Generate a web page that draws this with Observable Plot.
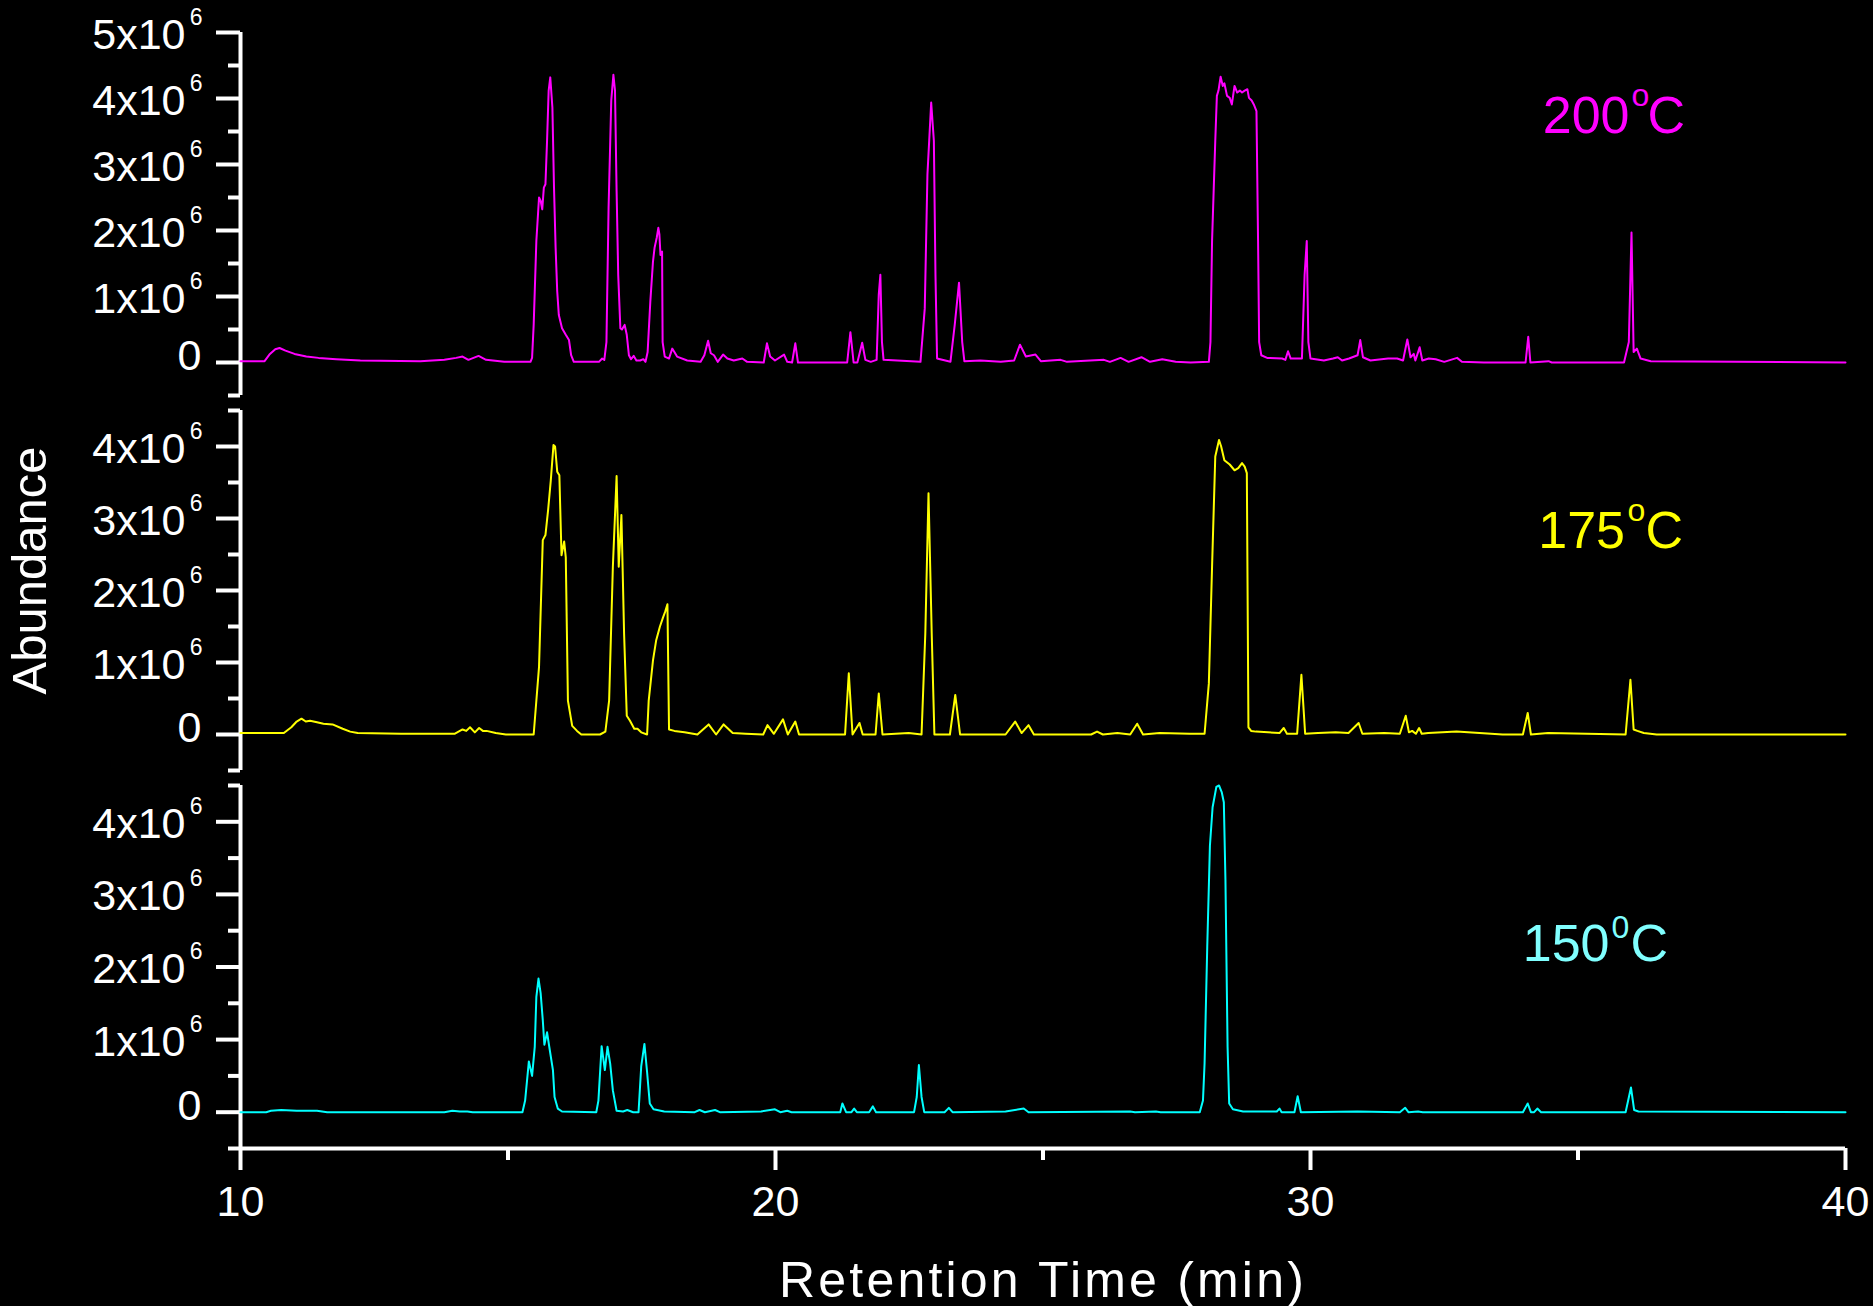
<!DOCTYPE html>
<html>
<head>
<meta charset="utf-8">
<script src="https://cdn.jsdelivr.net/npm/d3@7"></script>
<script src="https://cdn.jsdelivr.net/npm/@observablehq/plot@0.6"></script>
<style>
  html, body { margin: 0; padding: 0; background: #000; overflow: hidden; }
  #chart { position: relative; width: 1873px; height: 1306px; background: #000; overflow: hidden; }
  #chart svg { position: absolute; left: 0; }
</style>
</head>
<body>
<div id="chart"></div>
<script>
// ---------------- DATA (abundance in units of 10^6, time in min) ----------------
const trace200 = [
  [10.00,0.02],[10.45,0.02],[10.54,0.12],[10.65,0.20],[10.73,0.22],[10.84,0.18],[11.01,0.13],[11.23,0.09],
  [11.46,0.07],[11.79,0.05],[12.24,0.03],[13.36,0.02],[13.81,0.04],[14.03,0.07],[14.15,0.09],[14.26,0.04],
  [14.45,0.10],[14.59,0.04],[14.93,0.01],[15.42,0.01],[15.45,0.07],[15.48,0.57],[15.53,1.84],[15.58,2.50],
  [15.61,2.45],[15.64,2.32],[15.67,2.65],[15.70,2.70],[15.73,3.36],[15.76,4.12],[15.79,4.32],[15.83,3.86],
  [15.86,2.65],[15.89,1.74],[15.92,1.08],[15.95,0.72],[16.01,0.52],[16.08,0.42],[16.14,0.34],[16.18,0.11],
  [16.23,0.01],[16.70,0.01],[16.76,0.06],[16.80,0.04],[16.84,0.31],[16.88,2.34],[16.93,3.97],[16.97,4.36],
  [17.00,4.12],[17.03,2.60],[17.06,1.33],[17.10,0.52],[17.13,0.50],[17.18,0.57],[17.22,0.42],[17.26,0.11],
  [17.30,0.05],[17.35,0.10],[17.40,0.03],[17.47,0.03],[17.53,0.05],[17.57,0.01],[17.61,0.16],[17.66,0.92],
  [17.71,1.53],[17.74,1.74],[17.78,1.89],[17.81,2.04],[17.83,1.94],[17.85,1.63],[17.88,1.68],[17.89,0.31],
  [17.93,0.09],[18.01,0.06],[18.07,0.21],[18.11,0.16],[18.16,0.09],[18.35,0.03],[18.60,0.01],[18.67,0.11],
  [18.74,0.33],[18.79,0.14],[18.85,0.11],[18.92,0.01],[19.02,0.12],[19.10,0.06],[19.22,0.03],[19.38,0.06],
  [19.47,0.01],[19.78,0.00],[19.84,0.29],[19.90,0.09],[19.99,0.03],[20.16,0.12],[20.22,0.01],[20.31,0.00],
  [20.37,0.29],[20.42,0.00],[21.34,0.00],[21.40,0.46],[21.46,0.00],[21.53,0.00],[21.62,0.30],[21.68,0.04],
  [21.78,0.01],[21.89,0.04],[21.93,1.03],[21.96,1.33],[21.99,0.31],[22.02,0.04],[22.71,0.01],[22.79,0.82],
  [22.84,2.85],[22.91,3.94],[22.96,3.36],[22.99,1.33],[23.02,0.06],[23.27,0.01],[23.35,0.57],[23.43,1.21],
  [23.49,0.31],[23.53,0.02],[23.83,0.03],[24.21,0.01],[24.46,0.03],[24.57,0.27],[24.68,0.09],[24.86,0.12],
  [24.96,0.02],[25.33,0.04],[25.45,0.01],[26.14,0.04],[26.25,0.01],[26.45,0.07],[26.60,0.01],[26.84,0.08],
  [27.00,0.01],[27.23,0.05],[27.48,0.01],[27.76,0.00],[28.10,0.01],[28.13,0.31],[28.16,1.84],[28.19,2.60],
  [28.22,3.36],[28.25,4.04],[28.28,4.12],[28.32,4.33],[28.36,4.19],[28.39,4.23],[28.44,4.04],[28.49,4.01],
  [28.53,3.91],[28.58,4.19],[28.63,4.09],[28.68,4.12],[28.72,4.09],[28.77,4.12],[28.82,4.14],[28.85,4.01],
  [28.90,3.97],[28.94,3.91],[28.99,3.81],[29.02,1.84],[29.04,0.31],[29.08,0.11],[29.19,0.07],[29.47,0.06],
  [29.53,0.04],[29.58,0.17],[29.63,0.06],[29.84,0.06],[29.89,1.33],[29.93,1.84],[29.96,0.31],[30.00,0.06],
  [30.25,0.03],[30.42,0.06],[30.51,0.08],[30.59,0.03],[30.72,0.06],[30.88,0.11],[30.93,0.34],[30.98,0.08],
  [31.12,0.03],[31.45,0.06],[31.62,0.06],[31.73,0.03],[31.81,0.35],[31.87,0.08],[31.93,0.13],[31.96,0.03],
  [32.04,0.23],[32.09,0.03],[32.21,0.06],[32.34,0.05],[32.50,0.01],[32.74,0.07],[32.83,0.01],[33.24,0.00],
  [34.02,0.00],[34.07,0.39],[34.11,0.00],[34.45,0.02],[34.51,0.00],[35.86,0.00],[35.95,0.31],[36.00,1.97],
  [36.04,0.16],[36.10,0.21],[36.17,0.06],[36.36,0.02],[40.00,0.00]
];

const trace175 = [
  [10.00,0.02],[10.81,0.02],[10.95,0.10],[11.05,0.18],[11.14,0.22],[11.22,0.18],[11.30,0.19],[11.43,0.17],
  [11.55,0.15],[11.72,0.14],[11.91,0.08],[12.05,0.04],[12.19,0.02],[13.00,0.01],[14.00,0.01],[14.15,0.07],
  [14.22,0.05],[14.29,0.10],[14.38,0.03],[14.46,0.09],[14.53,0.05],[14.60,0.05],[14.77,0.02],[14.96,0.00],
  [15.48,0.00],[15.58,0.94],[15.65,2.70],[15.70,2.77],[15.75,3.12],[15.80,3.53],[15.85,4.02],[15.88,4.00],
  [15.92,3.65],[15.96,3.60],[16.00,2.49],[16.05,2.68],[16.08,2.46],[16.12,0.47],[16.20,0.12],[16.29,0.05],
  [16.37,0.00],[16.72,0.00],[16.82,0.04],[16.89,0.47],[16.96,2.33],[17.03,3.59],[17.07,2.33],[17.12,3.05],
  [17.17,1.40],[17.22,0.26],[17.28,0.19],[17.36,0.08],[17.42,0.08],[17.49,0.03],[17.60,0.00],[17.63,0.47],
  [17.71,1.03],[17.77,1.31],[17.84,1.50],[17.90,1.63],[17.94,1.71],[17.98,1.81],[18.01,0.07],[18.11,0.05],
  [18.30,0.03],[18.54,0.00],[18.75,0.14],[18.89,0.00],[19.03,0.14],[19.20,0.02],[19.44,0.01],[19.77,0.00],
  [19.85,0.13],[19.97,0.01],[20.14,0.21],[20.23,0.00],[20.37,0.18],[20.44,0.00],[21.30,0.00],[21.37,0.85],
  [21.44,0.00],[21.57,0.16],[21.63,0.00],[21.87,0.00],[21.93,0.57],[22.00,0.00],[22.49,0.02],[22.73,0.00],
  [22.80,1.40],[22.86,3.35],[22.92,1.40],[22.97,0.00],[23.26,0.00],[23.36,0.55],[23.45,0.00],[24.30,0.00],
  [24.48,0.18],[24.60,0.02],[24.73,0.13],[24.83,0.00],[25.90,0.00],[26.01,0.04],[26.12,0.00],[26.39,0.02],
  [26.63,0.00],[26.76,0.15],[26.87,0.00],[27.18,0.02],[27.74,0.01],[28.02,0.01],[28.10,0.71],[28.16,2.33],
  [28.22,3.86],[28.29,4.09],[28.33,4.00],[28.39,3.81],[28.49,3.75],[28.58,3.67],[28.65,3.70],[28.72,3.77],
  [28.77,3.72],[28.81,3.63],[28.84,0.10],[28.89,0.05],[28.98,0.04],[29.42,0.02],[29.50,0.09],[29.56,0.01],
  [29.75,0.01],[29.83,0.83],[29.90,0.01],[30.14,0.02],[30.47,0.03],[30.71,0.02],[30.90,0.16],[30.97,0.01],
  [31.38,0.02],[31.67,0.01],[31.78,0.26],[31.84,0.03],[31.90,0.05],[31.97,0.01],[32.03,0.09],[32.08,0.01],
  [32.20,0.02],[32.73,0.04],[33.59,0.00],[33.97,0.00],[34.06,0.30],[34.12,0.00],[34.44,0.02],[35.89,0.00],
  [35.98,0.76],[36.04,0.07],[36.11,0.05],[36.23,0.02],[36.47,0.00],[40.00,0.00]
];

const trace150 = [
  [10.00,0.00],[10.48,0.00],[10.57,0.02],[10.76,0.03],[11.05,0.02],[11.43,0.02],[11.62,0.00],[13.81,0.00],
  [13.96,0.02],[14.10,0.01],[14.24,0.01],[14.34,0.00],[15.27,0.00],[15.32,0.16],[15.39,0.70],[15.45,0.50],
  [15.50,0.90],[15.53,1.59],[15.57,1.84],[15.61,1.64],[15.65,1.27],[15.68,0.93],[15.73,1.10],[15.78,0.86],
  [15.84,0.58],[15.87,0.21],[15.93,0.05],[16.01,0.01],[16.65,0.00],[16.69,0.16],[16.75,0.91],[16.81,0.58],
  [16.86,0.90],[16.91,0.67],[16.96,0.30],[17.03,0.02],[17.15,0.01],[17.23,0.03],[17.34,0.00],[17.44,0.00],
  [17.49,0.63],[17.55,0.94],[17.60,0.55],[17.65,0.12],[17.72,0.04],[17.92,0.01],[18.49,0.00],[18.58,0.03],
  [18.68,0.00],[18.87,0.03],[18.96,0.00],[19.73,0.01],[19.99,0.04],[20.09,0.00],[20.22,0.02],[20.30,0.00],
  [21.21,0.00],[21.25,0.12],[21.32,0.00],[21.42,0.00],[21.47,0.05],[21.52,0.00],[21.75,0.00],[21.82,0.08],
  [21.88,0.00],[22.59,0.00],[22.64,0.21],[22.68,0.65],[22.73,0.21],[22.78,0.00],[23.16,0.00],[23.24,0.06],
  [23.31,0.00],[24.30,0.01],[24.64,0.05],[24.73,0.00],[26.63,0.01],[26.72,0.00],[27.11,0.01],[27.20,0.00],
  [27.93,0.00],[27.99,0.16],[28.02,0.67],[28.07,2.28],[28.12,3.67],[28.17,4.20],[28.24,4.48],[28.29,4.50],
  [28.34,4.41],[28.38,4.27],[28.41,3.21],[28.45,0.90],[28.48,0.12],[28.55,0.04],[28.74,0.01],[29.37,0.01],
  [29.42,0.05],[29.46,0.00],[29.70,0.00],[29.76,0.22],[29.82,0.00],[30.88,0.01],[31.67,0.00],[31.77,0.06],
  [31.83,0.00],[32.01,0.01],[32.10,0.00],[33.97,0.00],[34.06,0.12],[34.12,0.00],[34.18,0.00],[34.24,0.05],
  [34.31,0.00],[35.89,0.00],[35.99,0.34],[36.05,0.03],[36.13,0.01],[40.00,0.00]
];

const xDomain = [10, 40];
const xTicks = [10, 20, 30, 40];
const xMinorTicks = [15, 25, 35];
const yTicksTop = [0, 1, 2, 3, 4, 5];
const yMinorTop = [-0.5, 0.5, 1.5, 2.5, 3.5, 4.5];
const yTicks = [0, 1, 2, 3, 4];
const yMinor = [-0.5, 0.5, 1.5, 2.5, 3.5, 4.5];
const tempNumbers = ["200", "175", "150"];
const tempSups = ["o", "o", "0"];
const xTitle = "Retention Time (min)";
const yTitle = "Abundance";

// ---------------- RENDER ----------------
const FONT = "Arial, 'Liberation Sans', Helvetica, sans-serif";
const W = 1873, ML = 240, MR = 28;

function yAxisMarks(majors, minors, yMax) {
  return [
    Plot.ruleX([xDomain[0]], {y1: -0.5, y2: yMax, stroke: "white", strokeWidth: 4}),
    Plot.axisY(majors, {anchor: "left", tickSize: 24, tickFormat: () => "", stroke: "white", strokeWidth: 4}),
    Plot.axisY(minors, {anchor: "left", tickSize: 12, tickFormat: () => "", stroke: "white", strokeWidth: 4}),
    Plot.text(majors.filter(d => d !== 0), {y: d => d, frameAnchor: "left", textAnchor: "end", lineAnchor: "bottom",
      dx: -55, dy: 16, text: d => `${d}x10`, fill: "white", fontSize: 43, fontFamily: FONT}),
    Plot.text(majors.filter(d => d !== 0), {y: d => d, frameAnchor: "left", textAnchor: "end", lineAnchor: "bottom",
      dx: -38, dy: -8, text: () => "6", fill: "white", fontSize: 23, fontFamily: FONT}),
    Plot.text(majors.filter(d => d === 0), {y: d => d, frameAnchor: "left", textAnchor: "end", lineAnchor: "bottom",
      dx: -39, dy: 7.5, text: d => String(d), fill: "white", fontSize: 43, fontFamily: FONT})
  ];
}

function labelMarks(i, color, p) {
  return [
    Plot.text([tempNumbers[i]], {frameAnchor: "top-left", textAnchor: "end", lineAnchor: "bottom",
      dx: p.numEnd, dy: p.numBase, text: d => d, fill: color, fontSize: 52, fontFamily: FONT}),
    Plot.text([tempSups[i]], {frameAnchor: "top-left", textAnchor: "start", lineAnchor: "bottom",
      dx: p.supStart, dy: p.supBase, text: d => d, fill: color, fontSize: 32, fontFamily: FONT}),
    Plot.text(["C"], {frameAnchor: "top-left", textAnchor: "start", lineAnchor: "bottom",
      dx: p.cStart, dy: p.numBase, text: d => d, fill: color, fontSize: 52, fontFamily: FONT})
  ];
}

function panel({trace, color, labelColor, yMax, majors, minors, top, height, marginTop, marginBottom, idx, lp, extra = []}) {
  const svg = Plot.plot({
    width: W, height, marginLeft: ML, marginRight: MR, marginTop, marginBottom,
    style: {background: "transparent", color: "white", fontFamily: FONT, overflow: "visible"},
    x: {domain: xDomain, axis: null},
    y: {domain: [-0.5, yMax], axis: null},
    marks: [
      ...yAxisMarks(majors, minors, yMax),
      Plot.line(trace, {x: d => d[0], y: d => d[1], stroke: color, strokeWidth: 2}),
      ...labelMarks(idx, labelColor, lp),
      ...extra
    ]
  });
  svg.style.top = top + "px";
  return svg;
}

const chart = document.getElementById("chart");

// Top panel (200 °C)
chart.appendChild(panel({
  trace: trace200, color: "#ff00ff", labelColor: "#ff00ff", yMax: 5, majors: yTicksTop, minors: yMinorTop,
  top: 0, height: 400, marginTop: 32, marginBottom: 5, idx: 0,
  lp: {numEnd: 1389, numBase: 100, supStart: 1391, supBase: 73, cStart: 1407}
}));

// Middle panel (175 °C)
chart.appendChild(panel({
  trace: trace175, color: "#ffff00", labelColor: "#ffff00", yMax: 4.5, majors: yTicks, minors: yMinor,
  top: 395, height: 380, marginTop: 15, marginBottom: 5, idx: 1,
  lp: {numEnd: 1384.5, numBase: 137, supStart: 1387, supBase: 110, cStart: 1405},
  extra: [
    Plot.text([yTitle], {frameAnchor: "left", rotate: -90, textAnchor: "middle", lineAnchor: "bottom",
      dx: -195, dy: -20, text: d => d, fill: "white", fontSize: 49, fontFamily: FONT})
  ]
}));

// Bottom panel (150 °C) with x axis
const bottom = panel({
  trace: trace150, color: "#00ffff", labelColor: "#80ffff", yMax: 4.5, majors: yTicks, minors: yMinor,
  top: 770, height: 536, marginTop: 15, marginBottom: 158, idx: 2,
  lp: {numEnd: 1369, numBase: 175, supStart: 1371, supBase: 152.5, cStart: 1390},
  extra: [
    Plot.ruleY([-0.5], {x1: xDomain[0], x2: xDomain[1], stroke: "white", strokeWidth: 4}),
    Plot.axisX(xTicks, {anchor: "bottom", tickSize: 22, tickFormat: () => "", stroke: "white", strokeWidth: 4}),
    Plot.axisX(xMinorTicks, {anchor: "bottom", tickSize: 12, tickFormat: () => "", stroke: "white", strokeWidth: 4}),
    Plot.text(xTicks, {x: d => d, frameAnchor: "bottom", textAnchor: "middle", lineAnchor: "bottom",
      dy: 67, text: d => String(d), fill: "white", fontSize: 43, fontFamily: FONT}),
    Plot.text([xTitle], {frameAnchor: "bottom", textAnchor: "middle", lineAnchor: "bottom",
      dy: 148, text: d => d, fill: "white", fontSize: 50, fontFamily: FONT})
  ]
});
chart.appendChild(bottom);
d3.select(bottom).selectAll("text").filter(function() { return this.textContent === xTitle; })
  .style("letter-spacing", "3.2px");
</script>
</body>
</html>
